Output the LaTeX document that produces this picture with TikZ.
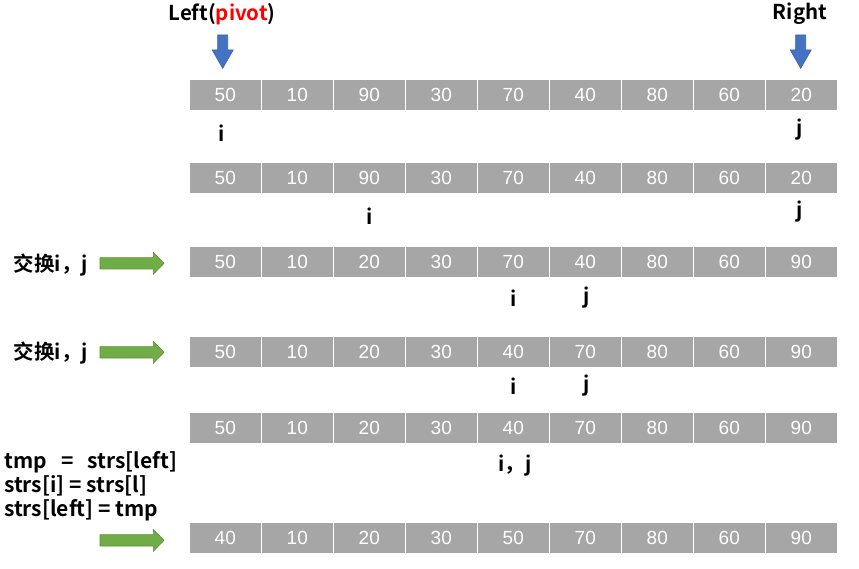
\documentclass[tikz,border=0pt]{standalone}
\usepackage{fontspec}
\setmainfont{Liberation Sans}
\newfontfamily\cjkb{Noto Sans CJK SC Bold}
\usetikzlibrary{positioning}
\definecolor{cellgray}{HTML}{A6A6A6}
\definecolor{arrgreen}{HTML}{70AD47}
\definecolor{arrgreenD}{HTML}{5A8F38}
\definecolor{arrblue}{HTML}{4472C4}
\definecolor{arrblueD}{HTML}{3A62A8}
\definecolor{pivred}{HTML}{FF0000}
\tikzset{
  cell/.style={fill=cellgray, draw=white, line width=1.2pt, minimum width=72pt, minimum height=31pt, inner sep=0pt, text=white, font=\fontsize{19}{19}\selectfont},
  lbl/.style={font=\cjkb\fontsize{20.5}{22}\selectfont, inner sep=0pt},
  pics/garrow/.style={code={
    \fill[arrgreen, draw=arrgreenD, line width=0.6pt] (0,-5.7) -- (53.3,-5.7) -- (53.3,-11) -- (64,0) -- (53.3,11) -- (53.3,5.7) -- (0,5.7) -- cycle;}},
  pics/barrow/.style={code={
    \fill[arrblue, draw=arrblueD, line width=0.6pt] (-5,0) -- (-5,15) -- (-10.5,15) -- (0,33.3) -- (10.5,15) -- (5,15) -- (5,0) -- cycle;}}
}
\begin{document}
\begin{tikzpicture}[x=1pt,y=-1pt]
\useasboundingbox (0,0) rectangle (859,569);
% rows
\foreach \r/\y/\vals in {1/95.4/{50,10,90,30,70,40,80,60,20},
                         2/178.3/{50,10,90,30,70,40,80,60,20},
                         3/261.7/{50,10,20,30,70,40,80,60,90},
                         4/351.7/{50,10,20,30,40,70,80,60,90},
                         5/428.3/{50,10,20,30,40,70,80,60,90},
                         6/538.3/{40,10,20,30,50,70,80,60,90}}{
  \foreach \v [count=\k] in \vals {
    \node[cell] (c\r-\k) at ({225.3+72*(\k-1)},\y) {\v};
  }
}
% top labels and arrows
\node[lbl] (left) at (222,14) {Left(\textcolor{pivred}{pivot})};
\node[lbl] (right) at (800,14) {Right};
\pic at (222.7,35) {barrow};
\pic at (800.7,35) {barrow};
% index labels
\node[lbl] (i1) at (222,133) {i};
\node[lbl] (j1) at (800,130) {j};
\node[lbl] (i2) at (370,216) {i};
\node[lbl] (j2) at (800,212) {j};
\node[lbl] (i3) at (514,298) {i};
\node[lbl] (j3) at (587,298) {j};
\node[lbl] (i4) at (514,386) {i};
\node[lbl] (j4) at (587,386) {j};
\node[lbl] (ij5) at (515,466) {i，j};
% left labels
\node[lbl] (sw1) at (51,265) {交换i，j};
\node[lbl] (sw2) at (51,353) {交换i，j};
\pic at (100,263.3) {garrow};
\pic at (100,352.3) {garrow};
\pic at (100,540.3) {garrow};
\node[lbl, anchor=north west, align=left, font=\cjkb\fontsize{21}{24}\selectfont] (code) at (4,451)
  {tmp\ \ \ =\ \ \ strs[left]\\strs[i]\ =\ strs[l]\\strs[left]\ =\ tmp};
\end{tikzpicture}
\end{document}
